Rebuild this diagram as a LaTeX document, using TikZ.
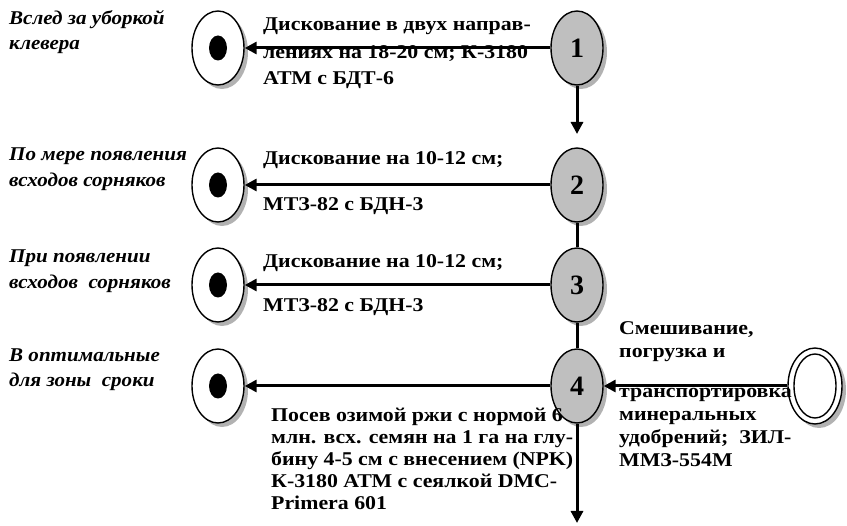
\documentclass[tikz,border=0pt]{standalone}
\usepackage{fontspec}
\setmainfont{Liberation Serif}
\newfontfamily\lblfont[FakeStretch=1.12]{Liberation Serif}
\newfontfamily\whenfont[FakeStretch=1.08]{Liberation Serif}
\usetikzlibrary{arrows.meta,shadows,shapes.geometric}
\begin{document}
\begin{tikzpicture}[x=1pt,y=-1pt,
 shade/.style={drop shadow={shadow xshift=4pt,shadow yshift=-4pt,fill=black!30,opacity=1}},
 num/.style={ellipse,draw,line width=1.4pt,fill=black!25,minimum width=52pt,minimum height=74pt,inner sep=0pt,font=\bfseries\fontsize{28}{28}\selectfont,shade},
 target/.style={ellipse,draw,line width=1.4pt,fill=white,minimum width=52pt,minimum height=74pt,inner sep=0pt,shade},
 inner/.style={ellipse,draw,line width=1.4pt,minimum width=42pt,minimum height=64pt,inner sep=0pt},
 dot/.style={ellipse,fill=black,minimum width=18pt,minimum height=25pt,inner sep=0pt},
 conn/.style={line width=3pt},
 arr/.style={conn,-{Triangle[length=12pt,width=12pt]}},
 lbl/.style={anchor=base west,inner sep=0pt,font=\lblfont\bfseries\fontsize{19.5}{22}\selectfont},
 when/.style={anchor=base west,inner sep=0pt,font=\whenfont\bfseries\itshape\fontsize{19.5}{22}\selectfont}]
\useasboundingbox (0,0) rectangle (847,526);

% main column
\node[num] (n1) at (577,48) {1};
\node[num] (n2) at (577,185) {2};
\node[num] (n3) at (577,285) {3};
\node[num] (n4) at (577,386) {4};
\coordinate (e1) at (577,134);
\coordinate (e4) at (577,523);

% targets
\node[target] (t1) at (218,48) {};
\node[dot] (d1) at (t1) {};
\node[target] (t2) at (218,185) {};
\node[dot] (d2) at (t2) {};
\node[target] (t3) at (218,285) {};
\node[dot] (d3) at (t3) {};
\node[target] (t4) at (218,386) {};
\node[dot] (d4) at (t4) {};

% source on the right
\node[target,minimum width=54pt,minimum height=76pt] (r) at (815,386) {};
\node[inner] (ri) at (r) {};

% timing
\node[when] (w1a) at (9,25) {Вслед за уборкой};
\node[when] (w1b) at (9,50) {клевера};
\node[when] (w2a) at (9,161) {По мере появления};
\node[when] (w2b) at (9,187) {всходов сорняков};
\node[when] (w3a) at (9,263) {При появлении};
\node[when] (w3b) at (9,289) {всходов\ \ сорняков};
\node[when] (w4a) at (9,362) {В оптимальные};
\node[when] (w4b) at (9,387) {для зоны\ \ сроки};

% operations
\node[lbl] (o1a) at (263,31) {Дискование в двух направ-};
\node[lbl] (o1b) at (263,59) {лениях на 18-20 см; К-3180};
\node[lbl] (o1c) at (263,85) {АТМ с БДТ-6};
\node[lbl] (o2a) at (263,165) {Дискование на 10-12 см;};
\node[lbl] (o2b) at (263,211) {МТЗ-82 с БДН-3};
\node[lbl] (o3a) at (263,268) {Дискование на 10-12 см;};
\node[lbl] (o3b) at (263,312) {МТЗ-82 с БДН-3};
\node[lbl] (o4a) at (271,422) {Посев озимой ржи с нормой 6};
\node[lbl] (o4b) at (271,444) {млн. всх. семян на 1 га на глу-};
\node[lbl] (o4c) at (271,466) {бину 4-5 см с внесением (NPK)};
\node[lbl] (o4d) at (271,488) {К-3180 АТМ с сеялкой DMC-};
\node[lbl] (o4e) at (271,510) {Primera 601};
\node[lbl] (f1) at (619,335) {Смешивание,};
\node[lbl] (f2) at (619,358) {погрузка и};
\node[lbl] (f3) at (619,398) {транспортировка};
\node[lbl] (f4) at (619,421) {минеральных};
\node[lbl] (f5) at (619,444) {удобрений;\ \ ЗИЛ-};
\node[lbl] (f6) at (619,467) {ММЗ-554М};

% connectors
\draw[arr] (n1) -- (t1);
\draw[arr] (n2) -- (t2);
\draw[arr] (n3) -- (t3);
\draw[arr] (n4) -- (t4);
\draw[arr] (r) -- (n4);
\draw[arr] (n1) -- (e1);
\draw[conn] (n2) -- (n3);
\draw[conn] (n3) -- (n4);
\draw[arr] (n4) -- (e4);
\end{tikzpicture}
\end{document}
